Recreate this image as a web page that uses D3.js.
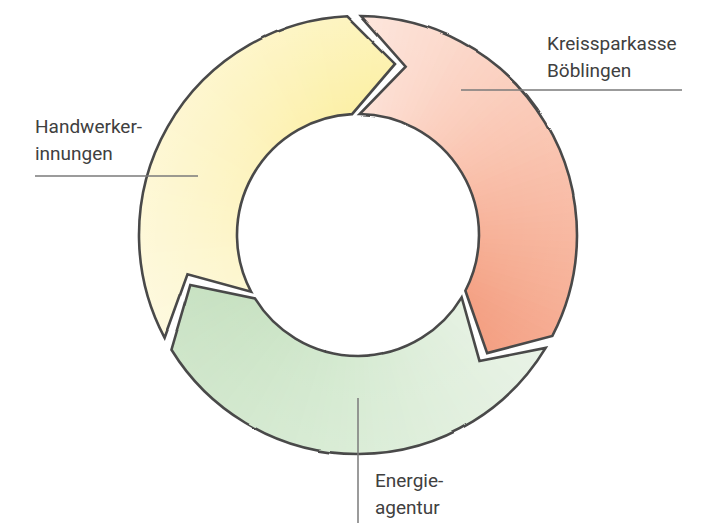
<!DOCTYPE html>
<html>
<head>
<meta charset="utf-8">
<script src="https://cdn.jsdelivr.net/npm/d3@7"></script>
<style>
  html, body { margin: 0; padding: 0; background: #fff; }
  svg { display: block; }
</style>
</head>
<body>
<svg id="chart" width="713" height="523"></svg>
<script>
// ---- data ----
const categories = ["Kreissparkasse Böblingen", "Energieagentur", "Handwerkerinnungen"];
const labelLines = [["Kreissparkasse", "Böblingen"], ["Energie-", "agentur"], ["Handwerker-", "innungen"]];
const values = [33.4, 33.6, 33.0];
const colorStart = ["#fde4da", "#e7f2e4", "#fdf7d2"];
const colorMid   = ["#f9bea8", "#d5ead1", "#fdf3bd"];
const colorEnd   = ["#f39a7b", "#c5e0bf", "#fcef9f"];

// ---- layout ----
const svg = d3.select("#chart");
const cx = 358, cy = 235;
const R = 219, r = 121, rm = 175;
const deg = Math.PI / 180;
const gap = 1.8 * deg;      // half gap between arrows
const tipExt = 15 * deg;    // arrow head extension

const pie = d3.pie().sort(null).value(d => d)
  .startAngle(-1 * deg).endAngle(359 * deg);
const arcs = pie(values);

const defs = svg.append("defs");
const rough = defs.append("filter").attr("id", "rough")
  .attr("x", "-5%").attr("y", "-5%").attr("width", "110%").attr("height", "110%");
rough.append("feTurbulence").attr("type", "fractalNoise").attr("baseFrequency", 0.02)
  .attr("numOctaves", 1).attr("seed", 7).attr("result", "n");
rough.append("feDisplacementMap").attr("in", "SourceGraphic").attr("in2", "n")
  .attr("scale", 2.5).attr("xChannelSelector", "R").attr("yChannelSelector", "G");

function pt(rad, a) { return [cx + rad * Math.sin(a), cy - rad * Math.cos(a)]; }

function arrowPath(a0, a1) {
  const s = a0 + gap, e = a1 - gap;
  const p = d3.path();
  const o0 = pt(R, s);
  p.moveTo(o0[0], o0[1]);
  p.arc(cx, cy, R, s - Math.PI / 2, e - Math.PI / 2, false);
  const tip = pt(rm, e + tipExt);
  p.lineTo(tip[0], tip[1]);
  const i1 = pt(r, e);
  p.lineTo(i1[0], i1[1]);
  p.arc(cx, cy, r, e - Math.PI / 2, s - Math.PI / 2, true);
  const notch = pt(rm, s + tipExt);
  p.lineTo(notch[0], notch[1]);
  p.closePath();
  return p.toString();
}

const g = svg.append("g");
const wedge = d3.arc().innerRadius(r - 6).outerRadius(R + 6);

arcs.forEach((d, i) => {
  const a0 = d.startAngle, a1 = d.endAngle;
  const path = arrowPath(a0, a1);
  const clipId = "clip" + i;
  defs.append("clipPath").attr("id", clipId).append("path").attr("d", path);
  const interp = t => t < 0.5
    ? d3.interpolateRgb(colorStart[i], colorMid[i])(t * 2)
    : d3.interpolateRgb(colorMid[i], colorEnd[i])((t - 0.5) * 2);
  const from = a0, to = a1 + tipExt;
  const N = 70;
  const steps = d3.range(N).map(k => ({
    startAngle: from + (to - from) * k / N,
    endAngle: from + (to - from) * (k + 1) / N + 0.01,
    t: k / (N - 1)
  }));
  const seg = g.append("g").attr("clip-path", `url(#${clipId})`);
  seg.selectAll("path").data(steps).join("path")
    .attr("transform", `translate(${cx},${cy})`)
    .attr("d", wedge)
    .attr("fill", s => interp(s.t));
  const rg = defs.append("radialGradient").attr("id", "rg" + i)
    .attr("gradientUnits", "userSpaceOnUse").attr("cx", cx).attr("cy", cy).attr("r", R);
  rg.append("stop").attr("offset", r / R).attr("stop-color", "#fff").attr("stop-opacity", 0);
  rg.append("stop").attr("offset", 1).attr("stop-color", "#fff").attr("stop-opacity", i === 2 ? 0.3 : 0.1);
  seg.append("path").attr("d", path).attr("fill", `url(#rg${i})`);
  g.append("path").attr("d", path)
    .attr("fill", "none").attr("stroke", "#4a4a4a").attr("stroke-width", 2.6)
    .attr("stroke-linejoin", "miter").attr("filter", "url(#rough)");
});

// ---- labels & leader lines ----
const labelPos = [
  { x: 547, y: 49.5, lx1: 461, ly1: 90, lx2: 682, ly2: 90 },
  { x: 375, y: 487, lx1: 358, ly1: 398, lx2: 358, ly2: 523 },
  { x: 35, y: 133, lx1: 35, ly1: 176, lx2: 198, ly2: 176 }
];
const lab = svg.append("g");
labelPos.forEach((p, i) => {
  lab.append("line").attr("x1", p.lx1).attr("y1", p.ly1).attr("x2", p.lx2).attr("y2", p.ly2)
    .attr("stroke", "#7a7a7a").attr("stroke-width", 1.5);
  const t = lab.append("text").attr("x", p.x).attr("y", p.y)
    .attr("font-family", "Roboto, sans-serif").attr("font-size", 19)
    .attr("fill", "#404040");
  labelLines[i].forEach((ln, k) => {
    t.append("tspan").attr("x", p.x).attr("dy", k === 0 ? 0 : 27).text(ln);
  });
});
</script>
</body>
</html>
